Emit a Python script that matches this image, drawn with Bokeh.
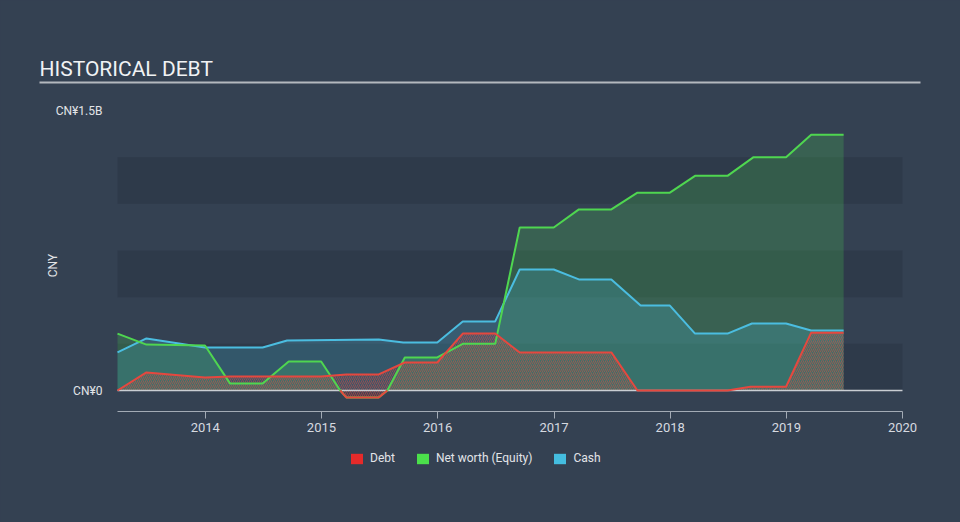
import numpy as np
import pandas as pd
from bokeh.plotting import figure
from bokeh.models import (Range1d, FixedTicker, DatetimeTickFormatter, Label, Legend,
                          LegendItem, BoxAnnotation)
from bokeh.embed import file_html
from bokeh.resources import INLINE

# ---- data (values in CNY billions) ----
debt_dates = ["2013-03-31", "2013-06-30", "2013-12-31", "2014-03-20", "2014-12-31",
              "2015-03-20", "2015-06-30", "2015-09-20", "2015-12-31", "2016-03-20",
              "2016-06-30", "2016-09-15", "2016-12-31", "2017-06-30", "2017-09-20",
              "2018-06-30", "2018-09-10", "2018-12-31", "2019-03-20", "2019-06-30"]
debt_vals = [0.0, 0.097, 0.070, 0.075, 0.075,
             0.086, 0.086, 0.150, 0.150, 0.305,
             0.305, 0.204, 0.204, 0.204, 0.0,
             0.0, 0.020, 0.020, 0.310, 0.310]

equity_dates = ["2013-03-31", "2013-06-30", "2013-12-31", "2014-03-20", "2014-06-30",
                "2014-09-20", "2014-12-31", "2015-03-01", "2015-03-20", "2015-06-30",
                "2015-07-27", "2015-09-20", "2015-12-31", "2016-03-20", "2016-06-30",
                "2016-09-15", "2016-12-31", "2017-03-20", "2017-06-30", "2017-09-20",
                "2017-12-31", "2018-03-20", "2018-06-30", "2018-09-20", "2018-12-31",
                "2019-03-20", "2019-06-30"]
equity_vals = [0.305, 0.246, 0.241, 0.037, 0.037,
               0.155, 0.155, 0.0, -0.037, -0.037,
               0.0, 0.177, 0.177, 0.250, 0.250,
               0.873, 0.873, 0.970, 0.970, 1.060,
               1.060, 1.150, 1.150, 1.250, 1.250,
               1.370, 1.370]

cash_dates = ["2013-03-31", "2013-06-30", "2013-12-31", "2014-06-30", "2014-09-15",
              "2015-06-30", "2015-09-15", "2015-12-31", "2016-03-20", "2016-06-30",
              "2016-09-15", "2016-12-31", "2017-03-20", "2017-06-30", "2017-09-30",
              "2017-12-31", "2018-03-20", "2018-06-30", "2018-09-15", "2018-12-31",
              "2019-03-20", "2019-06-30"]
cash_vals = [0.204, 0.279, 0.230, 0.230, 0.268,
             0.273, 0.257, 0.257, 0.370, 0.370,
             0.648, 0.648, 0.595, 0.595, 0.455,
             0.455, 0.305, 0.305, 0.359, 0.359,
             0.321, 0.321]

x_tick_years = [2014, 2015, 2016, 2017, 2018, 2019, 2020]
y_ticks = [0, 1.5]
y_tick_labels = ["CN¥0", "CN¥1.5B"]
band_edges = [(0.0, 0.25), (0.5, 0.75), (1.0, 1.25)]
legend_labels = ["Debt", "Net worth (Equity)", "Cash"]
title_text = "HISTORICAL DEBT"
y_axis_title = "CNY"

# ---- styling / layout (pixels; the frame fills the whole canvas) ----
BG = "#344152"
BAND = "#2e3a4a"
RED = "#e5483f"
GREEN = "#4fd650"
BLUE = "#4bbde0"
FONT = "Roboto"
W, H = 960, 522
PL, PR = 117, 902          # data area x
Y0, Y15 = 390, 110         # pixel rows of 0 and 1.5
AXIS_Y = 411               # pixel row of the x axis line

x0 = pd.Timestamp("2013-03-31")
x1 = pd.Timestamp("2020-01-01")
x0_ms = x0.value / 1e6
x1_ms = x1.value / 1e6
pxms = (x1_ms - x0_ms) / (PR - PL)
xr = Range1d(x0_ms - pxms * PL, x1_ms + pxms * (W - PR))
upp = 1.5 / (Y0 - Y15)
yr = Range1d(-(H - Y0) * upp, Y0 * upp)

dd = pd.to_datetime(debt_dates)
ed = pd.to_datetime(equity_dates)
cd = pd.to_datetime(cash_dates)
dv = np.array(debt_vals)
ev = np.array(equity_vals)
cv = np.array(cash_vals)

p = figure(width=W, height=H, x_axis_type="datetime", x_range=xr, y_range=yr,
           output_backend="svg", toolbar_location=None, min_border=0)
p.background_fill_color = BG
p.border_fill_color = BG
p.outline_line_color = None
p.grid.visible = False
p.styles = {"background-color": BG}

# background bands
p.quad(left=[x0] * len(band_edges), right=[x1] * len(band_edges),
       bottom=[b[0] for b in band_edges], top=[b[1] for b in band_edges],
       fill_color=BAND, line_color=None)

# fills
p.varea(x=ed, y1=0, y2=np.maximum(ev, 0), fill_color=GREEN, fill_alpha=0.22)
p.varea(x=cd, y1=0, y2=cv, fill_color=BLUE, fill_alpha=0.22)
p.varea(x=dd, y1=0, y2=dv, fill_color=RED, fill_alpha=0.05,
        hatch_pattern="/", hatch_color=RED, hatch_alpha=0.5, hatch_scale=4, hatch_weight=1)
p.varea(x=ed, y1=np.minimum(ev, 0), y2=0, fill_color=RED, fill_alpha=0.08,
        hatch_pattern="/", hatch_color=RED, hatch_alpha=0.5, hatch_scale=4, hatch_weight=1)

# zero line
p.segment(x0=[x0], y0=[0], x1=[x1], y1=[0], line_color="#c9cdd2", line_width=1.5)

# lines
p.line(cd, cv, line_color=BLUE, line_width=2)
p.line(ed, ev, line_color=GREEN, line_width=2)
p.line(dd, dv, line_color=RED, line_width=2)
neg = np.where(ev <= 0, ev, np.nan)
p.line(ed, neg, line_color=RED, line_width=2)

# x axis, drawn at a fixed location inside the canvas
xa = p.xaxis[0]
xa.fixed_location = -(AXIS_Y - Y0) * upp
xa.bounds = (x0_ms, x1_ms)
xa.ticker = FixedTicker(ticks=[pd.Timestamp(f"{y}-01-01").value / 1e6 for y in x_tick_years])
xa.formatter = DatetimeTickFormatter(years="%Y", months="%Y", days="%Y", hours="%Y")
xa.axis_line_color = "#a3abb5"
xa.major_tick_line_color = "#a3abb5"
xa.major_tick_out = 7
xa.major_tick_in = 0
xa.minor_tick_line_color = None
xa.major_label_text_font = FONT
xa.major_label_text_font_size = "13px"
xa.major_label_text_color = "#d6dae0"
xa.major_label_standoff = 4

# y axis at the left edge of the data area
ya = p.yaxis[0]
ya.fixed_location = x0_ms
ya.ticker = FixedTicker(ticks=y_ticks)
ya.major_label_overrides = {t: l for t, l in zip(y_ticks, y_tick_labels)}
ya.axis_line_color = None
ya.major_tick_line_color = None
ya.minor_tick_line_color = None
ya.major_tick_out = 0
ya.major_label_text_font = FONT
ya.major_label_text_font_size = "12px"
ya.major_label_text_color = "#e2e4e8"
ya.major_label_standoff = 15

# title, divider and y-axis title
p.add_layout(Label(x=39, y=H - 68, x_units="screen", y_units="screen", text=title_text,
                   text_font=FONT, text_font_size="21px", text_color="#f0f2f4",
                   text_baseline="alphabetic"))
p.add_layout(BoxAnnotation(left=39, right=920, bottom=H - 83, top=H - 81,
                           left_units="screen", right_units="screen",
                           bottom_units="screen", top_units="screen",
                           fill_color="#b3b8be", fill_alpha=1, line_alpha=0))
p.add_layout(Label(x=52, y=H - 265, x_units="screen", y_units="screen",
                   text=y_axis_title, angle=np.pi / 2, text_font=FONT, text_font_size="12px",
                   text_color="#e2e4e8", text_align="center", text_baseline="middle"))

# legend swatches (zero-size quads anchored at the first data point)
r_d = p.quad(left=[dd[0]], right=[dd[0]], top=[dv[0]], bottom=[dv[0]],
             fill_color="#e52a2a", line_color=None)
r_e = p.quad(left=[dd[0]], right=[dd[0]], top=[dv[0]], bottom=[dv[0]],
             fill_color="#4be04b", line_color=None)
r_c = p.quad(left=[dd[0]], right=[dd[0]], top=[dv[0]], bottom=[dv[0]],
             fill_color="#44bde0", line_color=None)
legend = Legend(items=[LegendItem(label=legend_labels[0], renderers=[r_d]),
                       LegendItem(label=legend_labels[1], renderers=[r_e]),
                       LegendItem(label=legend_labels[2], renderers=[r_c])],
                orientation="horizontal", location=(349, H - 465),
                background_fill_alpha=0, border_line_alpha=0,
                label_text_color="#e2e4e8", label_text_font=FONT, label_text_font_size="12px",
                glyph_width=15, glyph_height=13, label_standoff=6, spacing=20,
                padding=0, margin=0, label_height=13)
p.add_layout(legend)

open("out.html", "w").write(file_html(p, INLINE))
